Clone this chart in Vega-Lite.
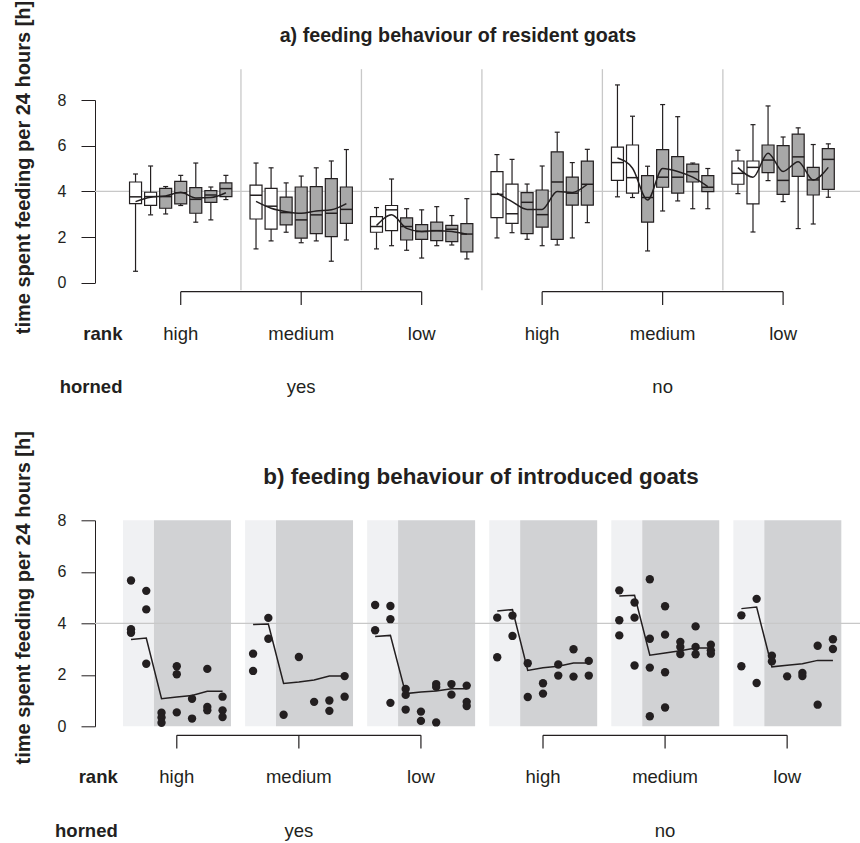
{
"$schema": "https://vega.github.io/schema/vega-lite/v6.json",
"background": "white",
"padding": {"left": 12, "top": 0, "right": 0, "bottom": 0},
"config": {"view": {"stroke": null}, "font": "Liberation Sans"},
"spacing": 237.3,
"bounds": "flush",
"datasets": {
"boxes": [
{"h":"yes","r":"high","slot":0,"ph":"pre","lo":0.50,"q1":3.46,"md":3.76,"q3":4.41,"hi":4.76,"tr":3.55},
{"h":"yes","r":"high","slot":1,"ph":"pre","lo":2.97,"q1":3.39,"md":3.77,"q3":3.96,"hi":5.11,"tr":3.74},
{"h":"yes","r":"high","slot":2,"ph":"post","lo":3.01,"q1":3.26,"md":3.77,"q3":4.13,"hi":4.21,"tr":3.80},
{"h":"yes","r":"high","slot":3,"ph":"post","lo":3.38,"q1":3.45,"md":3.94,"q3":4.44,"hi":4.70,"tr":3.96},
{"h":"yes","r":"high","slot":4,"ph":"post","lo":2.65,"q1":3.04,"md":3.65,"q3":4.16,"hi":5.24,"tr":3.71},
{"h":"yes","r":"high","slot":5,"ph":"post","lo":2.75,"q1":3.52,"md":3.84,"q3":4.03,"hi":4.19,"tr":3.73},
{"h":"yes","r":"high","slot":6,"ph":"post","lo":3.64,"q1":3.77,"md":4.12,"q3":4.37,"hi":4.70,"tr":3.94},
{"h":"yes","r":"medium","slot":8,"ph":"pre","lo":1.48,"q1":2.79,"md":3.83,"q3":4.27,"hi":5.24,"tr":3.56},
{"h":"yes","r":"medium","slot":9,"ph":"pre","lo":1.83,"q1":2.35,"md":3.35,"q3":4.13,"hi":5.03,"tr":3.26},
{"h":"yes","r":"medium","slot":10,"ph":"post","lo":2.21,"q1":2.53,"md":3.07,"q3":3.75,"hi":4.37,"tr":3.11},
{"h":"yes","r":"medium","slot":11,"ph":"post","lo":1.75,"q1":1.95,"md":2.75,"q3":4.19,"hi":4.67,"tr":3.04},
{"h":"yes","r":"medium","slot":12,"ph":"post","lo":1.83,"q1":2.15,"md":2.97,"q3":4.21,"hi":5.03,"tr":3.14},
{"h":"yes","r":"medium","slot":13,"ph":"post","lo":0.94,"q1":2.02,"md":3.04,"q3":4.56,"hi":5.33,"tr":3.19},
{"h":"yes","r":"medium","slot":14,"ph":"post","lo":1.87,"q1":2.60,"md":3.21,"q3":4.19,"hi":5.83,"tr":3.46},
{"h":"yes","r":"low","slot":16,"ph":"pre","lo":1.48,"q1":2.21,"md":2.46,"q3":2.89,"hi":3.29,"tr":2.50},
{"h":"yes","r":"low","slot":17,"ph":"pre","lo":1.62,"q1":2.28,"md":3.19,"q3":3.38,"hi":4.54,"tr":2.97},
{"h":"yes","r":"low","slot":18,"ph":"post","lo":1.42,"q1":1.87,"md":2.46,"q3":2.84,"hi":3.24,"tr":2.38},
{"h":"yes","r":"low","slot":19,"ph":"post","lo":1.08,"q1":1.90,"md":2.24,"q3":2.54,"hi":3.19,"tr":2.24},
{"h":"yes","r":"low","slot":20,"ph":"post","lo":1.62,"q1":1.84,"md":2.28,"q3":2.65,"hi":3.33,"tr":2.28},
{"h":"yes","r":"low","slot":21,"ph":"post","lo":1.65,"q1":1.80,"md":2.34,"q3":2.51,"hi":2.94,"tr":2.24},
{"h":"yes","r":"low","slot":22,"ph":"post","lo":1.04,"q1":1.35,"md":2.13,"q3":2.59,"hi":3.68,"tr":2.12},
{"h":"no","r":"high","slot":24,"ph":"pre","lo":1.96,"q1":2.85,"md":3.87,"q3":4.86,"hi":5.61,"tr":3.92},
{"h":"no","r":"high","slot":25,"ph":"pre","lo":2.19,"q1":2.60,"md":3.02,"q3":4.32,"hi":5.40,"tr":3.55},
{"h":"no","r":"high","slot":26,"ph":"post","lo":1.90,"q1":2.15,"md":3.52,"q3":3.94,"hi":4.32,"tr":3.21},
{"h":"no","r":"high","slot":27,"ph":"post","lo":1.62,"q1":2.43,"md":2.98,"q3":4.06,"hi":5.11,"tr":3.21},
{"h":"no","r":"high","slot":28,"ph":"post","lo":1.65,"q1":1.90,"md":4.41,"q3":5.73,"hi":6.59,"tr":3.99},
{"h":"no","r":"high","slot":29,"ph":"post","lo":1.96,"q1":3.40,"md":3.92,"q3":4.62,"hi":5.26,"tr":3.95},
{"h":"no","r":"high","slot":30,"ph":"post","lo":2.63,"q1":3.40,"md":4.31,"q3":5.32,"hi":5.84,"tr":4.31},
{"h":"no","r":"medium","slot":32,"ph":"pre","lo":3.76,"q1":4.48,"md":5.26,"q3":5.94,"hi":8.66,"tr":5.46},
{"h":"no","r":"medium","slot":33,"ph":"pre","lo":3.73,"q1":3.92,"md":4.60,"q3":6.03,"hi":7.29,"tr":5.01},
{"h":"no","r":"medium","slot":34,"ph":"post","lo":1.39,"q1":2.65,"md":3.73,"q3":4.69,"hi":5.10,"tr":3.62},
{"h":"no","r":"medium","slot":35,"ph":"post","lo":3.14,"q1":4.18,"md":4.62,"q3":5.83,"hi":7.80,"tr":5.00},
{"h":"no","r":"medium","slot":36,"ph":"post","lo":3.58,"q1":3.92,"md":4.62,"q3":5.52,"hi":7.27,"tr":4.87},
{"h":"no","r":"medium","slot":37,"ph":"post","lo":3.24,"q1":4.41,"md":4.86,"q3":5.19,"hi":5.24,"tr":4.62},
{"h":"no","r":"medium","slot":38,"ph":"post","lo":3.24,"q1":3.99,"md":4.18,"q3":4.69,"hi":5.00,"tr":4.21},
{"h":"no","r":"low","slot":40,"ph":"pre","lo":3.90,"q1":4.31,"md":4.79,"q3":5.33,"hi":5.80,"tr":5.04},
{"h":"no","r":"low","slot":41,"ph":"pre","lo":2.22,"q1":3.45,"md":5.05,"q3":5.33,"hi":6.92,"tr":4.62},
{"h":"no","r":"low","slot":42,"ph":"post","lo":4.47,"q1":4.82,"md":5.37,"q3":6.03,"hi":7.74,"tr":5.67},
{"h":"no","r":"low","slot":43,"ph":"post","lo":3.55,"q1":3.87,"md":4.48,"q3":6.00,"hi":6.38,"tr":4.87},
{"h":"no","r":"low","slot":44,"ph":"post","lo":2.37,"q1":4.66,"md":5.51,"q3":6.51,"hi":6.78,"tr":5.30},
{"h":"no","r":"low","slot":45,"ph":"post","lo":2.57,"q1":3.84,"md":4.50,"q3":5.05,"hi":6.05,"tr":4.50},
{"h":"no","r":"low","slot":46,"ph":"post","lo":3.74,"q1":4.09,"md":5.40,"q3":5.87,"hi":6.08,"tr":5.05}
],
"pts": [
{"h":"yes","r":"high","slot":0,"v":5.66},{"h":"yes","r":"high","slot":0,"v":3.77},{"h":"yes","r":"high","slot":0,"v":3.63},
{"h":"yes","r":"high","slot":1,"v":5.26},{"h":"yes","r":"high","slot":1,"v":4.54},{"h":"yes","r":"high","slot":1,"v":2.43},
{"h":"yes","r":"high","slot":2,"v":0.53},{"h":"yes","r":"high","slot":2,"v":0.34},{"h":"yes","r":"high","slot":2,"v":0.14},
{"h":"yes","r":"high","slot":3,"v":2.33},{"h":"yes","r":"high","slot":3,"v":2.02},{"h":"yes","r":"high","slot":3,"v":0.54},
{"h":"yes","r":"high","slot":4,"v":1.07},{"h":"yes","r":"high","slot":4,"v":0.30},
{"h":"yes","r":"high","slot":5,"v":2.23},{"h":"yes","r":"high","slot":5,"v":0.75},{"h":"yes","r":"high","slot":5,"v":0.62},
{"h":"yes","r":"high","slot":6,"v":1.15},{"h":"yes","r":"high","slot":6,"v":0.62},{"h":"yes","r":"high","slot":6,"v":0.36},
{"h":"yes","r":"medium","slot":8,"v":2.82},{"h":"yes","r":"medium","slot":8,"v":2.15},
{"h":"yes","r":"medium","slot":9,"v":4.21},{"h":"yes","r":"medium","slot":9,"v":3.40},
{"h":"yes","r":"medium","slot":10,"v":0.45},
{"h":"yes","r":"medium","slot":11,"v":2.69},
{"h":"yes","r":"medium","slot":12,"v":0.95},
{"h":"yes","r":"medium","slot":13,"v":1.00},{"h":"yes","r":"medium","slot":13,"v":0.60},
{"h":"yes","r":"medium","slot":14,"v":1.95},{"h":"yes","r":"medium","slot":14,"v":1.15},
{"h":"yes","r":"low","slot":16,"v":4.71},{"h":"yes","r":"low","slot":16,"v":3.73},
{"h":"yes","r":"low","slot":17,"v":4.67},{"h":"yes","r":"low","slot":17,"v":4.16},{"h":"yes","r":"low","slot":17,"v":0.91},
{"h":"yes","r":"low","slot":18,"v":1.45},{"h":"yes","r":"low","slot":18,"v":1.22},{"h":"yes","r":"low","slot":18,"v":0.65},
{"h":"yes","r":"low","slot":19,"v":0.57},{"h":"yes","r":"low","slot":19,"v":0.21},
{"h":"yes","r":"low","slot":20,"v":1.64},{"h":"yes","r":"low","slot":20,"v":1.53},{"h":"yes","r":"low","slot":20,"v":0.15},
{"h":"yes","r":"low","slot":21,"v":1.64},{"h":"yes","r":"low","slot":21,"v":1.23},
{"h":"yes","r":"low","slot":22,"v":1.58},{"h":"yes","r":"low","slot":22,"v":0.95},{"h":"yes","r":"low","slot":22,"v":0.79},
{"h":"no","r":"high","slot":24,"v":4.22},{"h":"no","r":"high","slot":24,"v":2.68},
{"h":"no","r":"high","slot":25,"v":4.30},{"h":"no","r":"high","slot":25,"v":3.51},
{"h":"no","r":"high","slot":26,"v":2.45},{"h":"no","r":"high","slot":26,"v":1.14},
{"h":"no","r":"high","slot":27,"v":1.67},{"h":"no","r":"high","slot":27,"v":1.27},
{"h":"no","r":"high","slot":28,"v":2.40},{"h":"no","r":"high","slot":28,"v":1.97},
{"h":"no","r":"high","slot":29,"v":2.99},{"h":"no","r":"high","slot":29,"v":1.93},
{"h":"no","r":"high","slot":30,"v":2.54},{"h":"no","r":"high","slot":30,"v":1.97},
{"h":"no","r":"medium","slot":32,"v":5.28},{"h":"no","r":"medium","slot":32,"v":4.12},{"h":"no","r":"medium","slot":32,"v":3.53},
{"h":"no","r":"medium","slot":33,"v":4.81},{"h":"no","r":"medium","slot":33,"v":4.22},{"h":"no","r":"medium","slot":33,"v":2.36},
{"h":"no","r":"medium","slot":34,"v":5.71},{"h":"no","r":"medium","slot":34,"v":3.40},{"h":"no","r":"medium","slot":34,"v":2.28},{"h":"no","r":"medium","slot":34,"v":0.39},
{"h":"no","r":"medium","slot":35,"v":4.66},{"h":"no","r":"medium","slot":35,"v":3.56},{"h":"no","r":"medium","slot":35,"v":2.10},{"h":"no","r":"medium","slot":35,"v":0.73},
{"h":"no","r":"medium","slot":36,"v":3.28},{"h":"no","r":"medium","slot":36,"v":3.08},{"h":"no","r":"medium","slot":36,"v":2.81},
{"h":"no","r":"medium","slot":37,"v":3.88},{"h":"no","r":"medium","slot":37,"v":3.08},{"h":"no","r":"medium","slot":37,"v":2.80},
{"h":"no","r":"medium","slot":38,"v":3.17},{"h":"no","r":"medium","slot":38,"v":2.95},{"h":"no","r":"medium","slot":38,"v":2.82},
{"h":"no","r":"low","slot":40,"v":4.31},{"h":"no","r":"low","slot":40,"v":2.33},
{"h":"no","r":"low","slot":41,"v":4.95},{"h":"no","r":"low","slot":41,"v":1.68},
{"h":"no","r":"low","slot":42,"v":2.74},{"h":"no","r":"low","slot":42,"v":2.52},
{"h":"no","r":"low","slot":43,"v":1.94},
{"h":"no","r":"low","slot":44,"v":2.07},{"h":"no","r":"low","slot":44,"v":1.95},
{"h":"no","r":"low","slot":45,"v":3.13},{"h":"no","r":"low","slot":45,"v":0.84},
{"h":"no","r":"low","slot":46,"v":3.38},{"h":"no","r":"low","slot":46,"v":3.00}
],
"trend2": [
{"h":"yes","r":"high","slot":0,"ph":"pre","tr":3.37},{"h":"yes","r":"high","slot":1,"ph":"pre","tr":3.43},
{"h":"yes","r":"high","slot":2,"ph":"post","tr":1.07},{"h":"yes","r":"high","slot":3,"ph":"post","tr":1.14},
{"h":"yes","r":"high","slot":4,"ph":"post","tr":1.20},{"h":"yes","r":"high","slot":5,"ph":"post","tr":1.36},
{"h":"yes","r":"high","slot":6,"ph":"post","tr":1.36},
{"h":"yes","r":"medium","slot":8,"ph":"pre","tr":3.95},{"h":"yes","r":"medium","slot":9,"ph":"pre","tr":3.97},
{"h":"yes","r":"medium","slot":10,"ph":"post","tr":1.66},{"h":"yes","r":"medium","slot":11,"ph":"post","tr":1.72},
{"h":"yes","r":"medium","slot":12,"ph":"post","tr":1.80},{"h":"yes","r":"medium","slot":13,"ph":"post","tr":1.95},
{"h":"yes","r":"medium","slot":14,"ph":"post","tr":1.95},
{"h":"yes","r":"low","slot":16,"ph":"pre","tr":3.49},{"h":"yes","r":"low","slot":17,"ph":"pre","tr":3.53},
{"h":"yes","r":"low","slot":18,"ph":"post","tr":1.27},{"h":"yes","r":"low","slot":19,"ph":"post","tr":1.33},
{"h":"yes","r":"low","slot":20,"ph":"post","tr":1.37},{"h":"yes","r":"low","slot":21,"ph":"post","tr":1.46},
{"h":"yes","r":"low","slot":22,"ph":"post","tr":1.46},
{"h":"no","r":"high","slot":24,"ph":"pre","tr":4.48},{"h":"no","r":"high","slot":25,"ph":"pre","tr":4.53},
{"h":"no","r":"high","slot":26,"ph":"post","tr":2.17},{"h":"no","r":"high","slot":27,"ph":"post","tr":2.27},
{"h":"no","r":"high","slot":28,"ph":"post","tr":2.33},{"h":"no","r":"high","slot":29,"ph":"post","tr":2.46},
{"h":"no","r":"high","slot":30,"ph":"post","tr":2.46},
{"h":"no","r":"medium","slot":32,"ph":"pre","tr":5.06},{"h":"no","r":"medium","slot":33,"ph":"pre","tr":5.09},
{"h":"no","r":"medium","slot":34,"ph":"post","tr":2.76},{"h":"no","r":"medium","slot":35,"ph":"post","tr":2.85},
{"h":"no","r":"medium","slot":36,"ph":"post","tr":2.93},{"h":"no","r":"medium","slot":37,"ph":"post","tr":3.04},
{"h":"no","r":"medium","slot":38,"ph":"post","tr":3.04},
{"h":"no","r":"low","slot":40,"ph":"pre","tr":4.57},{"h":"no","r":"low","slot":41,"ph":"pre","tr":4.63},
{"h":"no","r":"low","slot":42,"ph":"post","tr":2.31},{"h":"no","r":"low","slot":43,"ph":"post","tr":2.37},
{"h":"no","r":"low","slot":44,"ph":"post","tr":2.43},{"h":"no","r":"low","slot":45,"ph":"post","tr":2.56},
{"h":"no","r":"low","slot":46,"ph":"post","tr":2.56}
],
"gaps": [{"gap":7},{"gap":15},{"gap":23},{"gap":31},{"gap":39}]
},
"vconcat": [
{
"width": 766, "height": 182.7,
"layer": [
{"data": {"values": [{"ref": 4}]},
 "mark": {"type": "rule", "color": "#C8C8C8", "strokeWidth": 1.3},
 "encoding": {"y": {"field": "ref", "type": "quantitative", "scale": {"domain": [0, 8], "nice": false, "zero": false},
   "axis": {"values": [0,2,4,6,8], "grid": false, "tickSize": 14, "tickColor": "#231F20", "tickWidth": 1, "domainColor": "#231F20", "domainWidth": 1, "labelFont": "Liberation Sans", "labelFontSize": 16, "labelColor": "#231F20", "labelPadding": 15, "title": "time spent feeding per 24 hours [h]", "titleFont": "Liberation Sans", "titleFontSize": 20, "titleFontWeight": "bold", "titleColor": "#231F20", "titleAngle": -90, "titleX": -66, "titleY": 67, "titleAlign": "center", "titleBaseline": "alphabetic"}}}},
{"data": {"name": "gaps"},
 "mark": {"type": "rule", "color": "#C8C8C8", "strokeWidth": 1.3},
 "encoding": {"x": {"field": "gap", "type": "quantitative", "scale": {"domain": [-2.36, 47.84], "nice": false, "zero": false}, "axis": null},
   "y": {"datum": -0.33, "type": "quantitative", "scale": {"domain": [0, 8], "nice": false, "zero": false}}, "y2": {"datum": 9.35}}},
{"data": {"name": "boxes"},
 "mark": {"type": "rule", "color": "#231F20", "strokeWidth": 1.2},
 "encoding": {"x": {"field": "slot", "type": "quantitative", "scale": {"domain": [-2.36, 47.84], "nice": false, "zero": false}, "axis": null},
   "y": {"field": "lo", "type": "quantitative", "scale": {"domain": [0, 8], "nice": false, "zero": false}}, "y2": {"field": "hi"}}},
{"data": {"name": "boxes"},
 "mark": {"type": "tick", "orient": "horizontal", "color": "#231F20", "size": 5, "thickness": 1.2, "opacity": 1},
 "encoding": {"x": {"field": "slot", "type": "quantitative", "scale": {"domain": [-2.36, 47.84], "nice": false, "zero": false}, "axis": null},
   "y": {"field": "lo", "type": "quantitative", "scale": {"domain": [0, 8], "nice": false, "zero": false}}}},
{"data": {"name": "boxes"},
 "mark": {"type": "tick", "orient": "horizontal", "color": "#231F20", "size": 5, "thickness": 1.2, "opacity": 1},
 "encoding": {"x": {"field": "slot", "type": "quantitative", "scale": {"domain": [-2.36, 47.84], "nice": false, "zero": false}, "axis": null},
   "y": {"field": "hi", "type": "quantitative", "scale": {"domain": [0, 8], "nice": false, "zero": false}}}},
{"data": {"name": "boxes"},
 "mark": {"type": "bar", "width": 12, "stroke": "#231F20", "strokeWidth": 1.2, "opacity": 1},
 "encoding": {"x": {"field": "slot", "type": "quantitative", "scale": {"domain": [-2.36, 47.84], "nice": false, "zero": false}, "axis": null},
   "y": {"field": "q1", "type": "quantitative", "scale": {"domain": [0, 8], "nice": false, "zero": false}}, "y2": {"field": "q3"},
   "fill": {"field": "ph", "type": "nominal", "scale": {"domain": ["pre", "post"], "range": ["#FFFFFF", "#A8A8A8"]}, "legend": null}}},
{"data": {"name": "boxes"},
 "mark": {"type": "tick", "orient": "horizontal", "color": "#231F20", "size": 12, "thickness": 1.5, "opacity": 1},
 "encoding": {"x": {"field": "slot", "type": "quantitative", "scale": {"domain": [-2.36, 47.84], "nice": false, "zero": false}, "axis": null},
   "y": {"field": "md", "type": "quantitative", "scale": {"domain": [0, 8], "nice": false, "zero": false}}}},
{"data": {"name": "boxes"},
 "mark": {"type": "line", "color": "#231F20", "strokeWidth": 1.5, "interpolate": "monotone"},
 "encoding": {"x": {"field": "slot", "type": "quantitative", "scale": {"domain": [-2.36, 47.84], "nice": false, "zero": false}, "axis": null},
   "y": {"field": "tr", "type": "quantitative", "scale": {"domain": [0, 8], "nice": false, "zero": false}},
   "detail": [{"field": "h"}, {"field": "r"}]}},
{"data": {"name": "boxes"},
 "transform": [{"aggregate": [{"op": "mean", "field": "slot", "as": "c"}], "groupby": ["h", "r"]},
   {"aggregate": [{"op": "min", "field": "c", "as": "c0"}, {"op": "max", "field": "c", "as": "c1"}], "groupby": ["h"]}],
 "mark": {"type": "rule", "color": "#231F20", "strokeWidth": 1.2},
 "encoding": {"x": {"field": "c0", "type": "quantitative", "scale": {"domain": [-2.36, 47.84], "nice": false, "zero": false}, "axis": null}, "x2": {"field": "c1"},
   "y": {"datum": -0.394, "type": "quantitative", "scale": {"domain": [0, 8], "nice": false, "zero": false}}}},
{"data": {"name": "boxes"},
 "transform": [{"aggregate": [{"op": "mean", "field": "slot", "as": "c"}], "groupby": ["h", "r"]}],
 "mark": {"type": "rule", "color": "#231F20", "strokeWidth": 1.2},
 "encoding": {"x": {"field": "c", "type": "quantitative", "scale": {"domain": [-2.36, 47.84], "nice": false, "zero": false}, "axis": null},
   "y": {"datum": -0.394, "type": "quantitative", "scale": {"domain": [0, 8], "nice": false, "zero": false}}, "y2": {"datum": -0.977}}},
{"data": {"name": "boxes"},
 "transform": [{"aggregate": [{"op": "mean", "field": "slot", "as": "c"}], "groupby": ["h", "r"]}],
 "mark": {"type": "text", "font": "Liberation Sans", "fontSize": 18.5, "color": "#231F20", "align": "center", "baseline": "alphabetic"},
 "encoding": {"x": {"field": "c", "type": "quantitative", "scale": {"domain": [-2.36, 47.84], "nice": false, "zero": false}, "axis": null},
   "y": {"datum": -2.51, "type": "quantitative", "scale": {"domain": [0, 8], "nice": false, "zero": false}}, "text": {"field": "r"}}},
{"data": {"name": "boxes"},
 "transform": [{"aggregate": [{"op": "mean", "field": "slot", "as": "c"}], "groupby": ["h"]}],
 "mark": {"type": "text", "font": "Liberation Sans", "fontSize": 18.5, "color": "#231F20", "align": "center", "baseline": "alphabetic"},
 "encoding": {"x": {"field": "c", "type": "quantitative", "scale": {"domain": [-2.36, 47.84], "nice": false, "zero": false}, "axis": null},
   "y": {"datum": -4.83, "type": "quantitative", "scale": {"domain": [0, 8], "nice": false, "zero": false}}, "text": {"field": "h"}}},
{"data": {"values": [{"lab": "rank"}]},
 "mark": {"type": "text", "font": "Liberation Sans", "fontSize": 18.5, "fontWeight": "bold", "color": "#231F20", "align": "right", "baseline": "alphabetic"},
 "encoding": {"x": {"datum": -0.87, "type": "quantitative", "scale": {"domain": [-2.36, 47.84], "nice": false, "zero": false}, "axis": null},
   "y": {"datum": -2.51, "type": "quantitative", "scale": {"domain": [0, 8], "nice": false, "zero": false}}, "text": {"field": "lab"}}},
{"data": {"values": [{"lab": "horned"}]},
 "mark": {"type": "text", "font": "Liberation Sans", "fontSize": 18.5, "fontWeight": "bold", "color": "#231F20", "align": "right", "baseline": "alphabetic"},
 "encoding": {"x": {"datum": -0.87, "type": "quantitative", "scale": {"domain": [-2.36, 47.84], "nice": false, "zero": false}, "axis": null},
   "y": {"datum": -4.83, "type": "quantitative", "scale": {"domain": [0, 8], "nice": false, "zero": false}}, "text": {"field": "lab"}}},
{"data": {"values": [{"lab": "a) feeding behaviour of resident goats"}]},
 "mark": {"type": "text", "font": "Liberation Sans", "fontSize": 19.7, "fontWeight": "bold", "color": "#231F20", "align": "center", "baseline": "alphabetic"},
 "encoding": {"x": {"datum": 21.41, "type": "quantitative", "scale": {"domain": [-2.36, 47.84], "nice": false, "zero": false}, "axis": null},
   "y": {"datum": 10.556, "type": "quantitative", "scale": {"domain": [0, 8], "nice": false, "zero": false}}, "text": {"field": "lab"}}}
]
},
{
"width": 766, "height": 206,
"layer": [
{"data": {"name": "trend2"},
 "transform": [{"filter": "datum.ph === 'pre'"}, {"aggregate": [{"op": "min", "field": "slot", "as": "s0"}, {"op": "max", "field": "slot", "as": "s1"}], "groupby": ["h", "r"]}],
 "mark": {"type": "rect", "color": "#F0F1F3", "xOffset": -8, "x2Offset": 7.6},
 "encoding": {"x": {"field": "s0", "type": "quantitative", "scale": {"domain": [-2.36, 47.84], "nice": false, "zero": false}, "axis": null}, "x2": {"field": "s1"},
   "y": {"datum": 0, "type": "quantitative", "scale": {"domain": [0, 8], "nice": false, "zero": false}}, "y2": {"datum": 8}}},
{"data": {"name": "trend2"},
 "transform": [{"filter": "datum.ph === 'post'"}, {"aggregate": [{"op": "min", "field": "slot", "as": "s0"}, {"op": "max", "field": "slot", "as": "s1"}], "groupby": ["h", "r"]}],
 "mark": {"type": "rect", "color": "#D1D2D4", "xOffset": -7.6, "x2Offset": 8.4},
 "encoding": {"x": {"field": "s0", "type": "quantitative", "scale": {"domain": [-2.36, 47.84], "nice": false, "zero": false}, "axis": null}, "x2": {"field": "s1"},
   "y": {"datum": 0, "type": "quantitative", "scale": {"domain": [0, 8], "nice": false, "zero": false}}, "y2": {"datum": 8}}},
{"data": {"values": [{"ref": 4}]},
 "mark": {"type": "rule", "color": "#C8C8C8", "strokeWidth": 1.3},
 "encoding": {"y": {"field": "ref", "type": "quantitative", "scale": {"domain": [0, 8], "nice": false, "zero": false},
   "axis": {"values": [0,2,4,6,8], "grid": false, "tickSize": 14, "tickColor": "#231F20", "tickWidth": 1, "domainColor": "#231F20", "domainWidth": 1, "labelFont": "Liberation Sans", "labelFontSize": 16, "labelColor": "#231F20", "labelPadding": 15, "title": "time spent feeding per 24 hours [h]", "titleFont": "Liberation Sans", "titleFontSize": 20, "titleFontWeight": "bold", "titleColor": "#231F20", "titleAngle": -90, "titleX": -66, "titleY": 77, "titleAlign": "center", "titleBaseline": "alphabetic"}}}},
{"data": {"name": "pts"},
 "mark": {"type": "circle", "color": "#231F20", "size": 70, "opacity": 1},
 "encoding": {"x": {"field": "slot", "type": "quantitative", "scale": {"domain": [-2.36, 47.84], "nice": false, "zero": false}, "axis": null},
   "y": {"field": "v", "type": "quantitative", "scale": {"domain": [0, 8], "nice": false, "zero": false}}}},
{"data": {"name": "trend2"},
 "mark": {"type": "line", "color": "#231F20", "strokeWidth": 1.5},
 "encoding": {"x": {"field": "slot", "type": "quantitative", "scale": {"domain": [-2.36, 47.84], "nice": false, "zero": false}, "axis": null},
   "y": {"field": "tr", "type": "quantitative", "scale": {"domain": [0, 8], "nice": false, "zero": false}},
   "detail": [{"field": "h"}, {"field": "r"}]}},
{"data": {"name": "trend2"},
 "transform": [{"aggregate": [{"op": "mean", "field": "slot", "as": "c"}], "groupby": ["h", "r"]},
   {"aggregate": [{"op": "min", "field": "c", "as": "c0"}, {"op": "max", "field": "c", "as": "c1"}], "groupby": ["h"]}],
 "mark": {"type": "rule", "color": "#231F20", "strokeWidth": 1.2},
 "encoding": {"x": {"field": "c0", "type": "quantitative", "scale": {"domain": [-2.36, 47.84], "nice": false, "zero": false}, "axis": null}, "x2": {"field": "c1"},
   "y": {"datum": -0.35, "type": "quantitative", "scale": {"domain": [0, 8], "nice": false, "zero": false}}}},
{"data": {"name": "trend2"},
 "transform": [{"aggregate": [{"op": "mean", "field": "slot", "as": "c"}], "groupby": ["h", "r"]}],
 "mark": {"type": "rule", "color": "#231F20", "strokeWidth": 1.2},
 "encoding": {"x": {"field": "c", "type": "quantitative", "scale": {"domain": [-2.36, 47.84], "nice": false, "zero": false}, "axis": null},
   "y": {"datum": -0.35, "type": "quantitative", "scale": {"domain": [0, 8], "nice": false, "zero": false}}, "y2": {"datum": -0.866}}},
{"data": {"name": "trend2"},
 "transform": [{"aggregate": [{"op": "mean", "field": "slot", "as": "c"}], "groupby": ["h", "r"]}],
 "mark": {"type": "text", "font": "Liberation Sans", "fontSize": 18.5, "color": "#231F20", "align": "center", "baseline": "alphabetic"},
 "encoding": {"x": {"field": "c", "type": "quantitative", "scale": {"domain": [-2.36, 47.84], "nice": false, "zero": false}, "axis": null},
   "y": {"datum": -2.19, "type": "quantitative", "scale": {"domain": [0, 8], "nice": false, "zero": false}}, "text": {"field": "r"}}},
{"data": {"name": "trend2"},
 "transform": [{"aggregate": [{"op": "mean", "field": "slot", "as": "c"}], "groupby": ["h"]}],
 "mark": {"type": "text", "font": "Liberation Sans", "fontSize": 18.5, "color": "#231F20", "align": "center", "baseline": "alphabetic"},
 "encoding": {"x": {"field": "c", "type": "quantitative", "scale": {"domain": [-2.36, 47.84], "nice": false, "zero": false}, "axis": null},
   "y": {"datum": -4.30, "type": "quantitative", "scale": {"domain": [0, 8], "nice": false, "zero": false}}, "text": {"field": "h"}}},
{"data": {"values": [{"lab": "rank"}]},
 "mark": {"type": "text", "font": "Liberation Sans", "fontSize": 18.5, "fontWeight": "bold", "color": "#231F20", "align": "right", "baseline": "alphabetic"},
 "encoding": {"x": {"datum": -0.87, "type": "quantitative", "scale": {"domain": [-2.36, 47.84], "nice": false, "zero": false}, "axis": null},
   "y": {"datum": -2.19, "type": "quantitative", "scale": {"domain": [0, 8], "nice": false, "zero": false}}, "text": {"field": "lab"}}},
{"data": {"values": [{"lab": "horned"}]},
 "mark": {"type": "text", "font": "Liberation Sans", "fontSize": 18.5, "fontWeight": "bold", "color": "#231F20", "align": "right", "baseline": "alphabetic"},
 "encoding": {"x": {"datum": -0.87, "type": "quantitative", "scale": {"domain": [-2.36, 47.84], "nice": false, "zero": false}, "axis": null},
   "y": {"datum": -4.30, "type": "quantitative", "scale": {"domain": [0, 8], "nice": false, "zero": false}}, "text": {"field": "lab"}}},
{"data": {"values": [{"lab": "b) feeding behaviour of introduced goats"}]},
 "mark": {"type": "text", "font": "Liberation Sans", "fontSize": 22.4, "fontWeight": "bold", "color": "#231F20", "align": "center", "baseline": "alphabetic"},
 "encoding": {"x": {"datum": 22.94, "type": "quantitative", "scale": {"domain": [-2.36, 47.84], "nice": false, "zero": false}, "axis": null},
   "y": {"datum": 9.425, "type": "quantitative", "scale": {"domain": [0, 8], "nice": false, "zero": false}}, "text": {"field": "lab"}}}
]
}
]
}
